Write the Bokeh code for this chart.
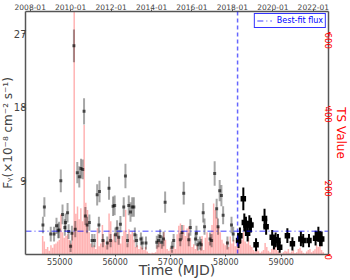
import math
from bokeh.plotting import figure
from bokeh.models import Range1d, LinearAxis, FixedTicker, Span, Legend, LegendItem
from bokeh.embed import file_html
from bokeh.resources import INLINE

# ---------------- data ----------------
# Pre-2018 light curve (grey)
grey_mjd = [54695, 54721, 54836, 54896, 54940, 54969, 54987, 55018, 55049, 55091,
            55104, 55140, 55159, 55195, 55219, 55255, 55279, 55316, 55352, 55383,
            55414, 55438, 55462, 55493, 55535, 55584, 55626, 55675, 55706, 55717,
            55779, 55858, 55889, 55918, 55962, 55991, 56004, 56035, 56064, 56095,
            56155, 56186, 56223, 56246, 56277, 56308, 56338, 56356, 56387, 56465,
            56491, 56557, 56752, 56783, 56812, 56843, 56874, 56903, 57026, 57057,
            57177, 57208, 57239, 57330, 57359, 57451, 57469, 57495, 57531, 57555,
            57591, 57615, 57714, 57743, 57798, 57834, 57859, 57889, 57920, 57951,
            58029, 58102, 58133]
grey_flux = [3.6, 5.8, 2.5, 2.5, 3.5, 2.9, 3.0, 9.0, 4.9, 3.3,
             3.9, 5.1, 2.8, 1.0, 2.6, 25.5, 3.1, 10.0, 9.5, 10.5,
             10.4, 17.5, 4.7, 3.6, 3.9, 1.7, 1.7, 7.3, 3.6, 7.7,
             1.7, 1.4, 8.1, 1.7, 5.9, 6.0, 2.4, 3.2, 2.1, 3.7,
             5.8, 9.6, 1.7, 6.0, 5.2, 5.8, 5.8, 2.4, 1.7, 1.9,
             1.4, 1.4, 1.5, 1.7, 2.2, 1.5, 1.9, 6.4, 0.9, 1.7,
             1.8, 2.7, 7.5, 1.8, 3.3, 1.9, 2.6, 1.2, 1.4, 1.2,
             5.1, 3.4, 1.9, 1.7, 9.9, 5.6, 3.4, 7.8, 7.2, 4.8,
             1.4, 3.6, 2.5]
grey_err = [1.0, 1.2, 0.9, 0.9, 1.0, 0.9, 1.0, 1.4, 1.2, 1.0,
            1.1, 1.2, 0.9, 0.7, 0.9, 2.0, 1.0, 1.3, 1.3, 1.2,
            1.2, 1.6, 1.1, 1.0, 1.0, 0.8, 0.8, 1.3, 1.0, 1.3,
            0.8, 0.8, 1.4, 0.8, 1.2, 1.2, 0.9, 1.0, 0.9, 1.0,
            1.2, 1.5, 0.8, 1.2, 1.2, 1.2, 1.2, 0.9, 0.8, 0.8,
            0.8, 0.8, 0.8, 0.8, 0.9, 0.8, 0.9, 1.3, 0.7, 0.8,
            0.8, 0.9, 1.4, 0.8, 1.0, 0.8, 0.9, 0.7, 0.8, 0.7,
            1.2, 1.0, 0.8, 0.8, 1.5, 1.2, 1.0, 1.3, 1.3, 1.1,
            0.8, 1.0, 0.9]

# Post-2018 light curve (black)
blk_mjd = [58230, 58254, 58316, 58334, 58363, 58394, 58425, 58454, 58546, 58699,
           58728, 58838, 58869, 58900, 58942, 58973, 59112, 59203, 59356, 59398,
           59502, 59622, 59672, 59702, 59732]
blk_flux = [1.7, 2.3, 6.8, 3.9, 3.6, 2.6, 3.8, 3.6, 1.2, 4.4,
            3.4, 2.1, 1.4, 1.8, 1.7, 0.9, 2.3, 1.3, 1.9, 1.7,
            1.7, 2.0, 2.5, 1.9, 1.9]
blk_err = [0.9, 1.0, 1.4, 1.1, 1.0, 1.0, 1.0, 0.9, 0.8, 1.2,
           1.0, 0.9, 0.8, 0.9, 0.8, 0.7, 0.9, 0.8, 0.9, 0.8,
           0.8, 0.9, 0.9, 0.9, 0.9]

# TS values (30-day bins starting at MJD 54690)
ts_start = 54690
ts_step = 30
ts_vals = [50, 35, 15, 20, 10, 25, 18, 28, 30, 35,
           40, 108, 60, 45, 50, 55, 40, 30, 60, 900,
           110, 130, 95, 125, 90, 350, 140, 120, 60, 30,
           20, 25, 15, 71, 22, 30, 80, 40, 25, 35,
           111, 90, 40, 55, 35, 60, 45, 30, 50, 65,
           121, 30, 68, 55, 62, 40, 20, 25, 15, 22,
           18, 12, 20, 8, 4, 3, 5, 4, 6, 25,
           35, 30, 28, 60, 40, 15, 10, 18, 12, 20,
           15, 55, 78, 84, 60, 80, 50, 70, 76, 45,
           20, 28, 15, 25, 10, 18, 50, 12, 45, 60,
           35, 55, 80, 138, 120, 100, 75, 60, 40, 30,
           25, 35, 20, 49, 30, 40, 22, 30, 45, 55,
           40, 60, 35, 30, 45, 25, 20, 12, 8, 15,
           10, 5, 8, 12, 31, 20, 10, 6, 15, 18,
           22, 12, 8, 5, 3, 6, 10, 8, 15, 5,
           8, 12, 4, 6, 15, 18, 10, 5, 3, 8,
           12, 15, 6, 10, 14, 25, 20, 28, 12, 6]
ts_mjd = [ts_start + ts_step * i for i in range(len(ts_vals))]

best_fit_flux = 2.85
change_mjd = 58212

date_labels = ["2008-01", "2010-01", "2012-01", "2014-01", "2016-01", "2018-01", "2020-01", "2022-01"]
date_mjd = [54466, 55197, 55927, 56658, 57388, 58119, 58849, 59580]

x_lo, x_hi = 54380, 59855
flux_max = 29.7
ts_max = 657

FONT = "DejaVu Sans"
AX = "#555555"

p = figure(width=353, height=280, output_backend="svg", toolbar_location=None,
           x_range=Range1d(x_lo, x_hi), y_range=Range1d(0, flux_max),
           min_border_left=0, min_border_right=0, min_border_top=0, min_border_bottom=0)
p.styles = {"margin-left": "-3px"}
p.outline_line_color = None
p.xgrid.visible = False
p.ygrid.visible = False
p.extra_y_ranges = {"ts": Range1d(0, ts_max)}

# TS bars
p.vbar(x=ts_mjd, top=ts_vals, width=27, y_range_name="ts",
       fill_color="red", fill_alpha=0.3, line_color=None)

# grey points
g_lo = [f - e for f, e in zip(grey_flux, grey_err)]
g_hi = [f + e for f, e in zip(grey_flux, grey_err)]
p.segment(x0=grey_mjd, y0=g_lo, x1=grey_mjd, y1=g_hi, line_color="black", line_alpha=0.35, line_width=2)
p.scatter(x=grey_mjd, y=grey_flux, marker="square", size=3, fill_color="black", line_color=None, fill_alpha=0.6)

# black points
b_lo = [f - e for f, e in zip(blk_flux, blk_err)]
b_hi = [f + e for f, e in zip(blk_flux, blk_err)]
p.segment(x0=blk_mjd, y0=b_lo, x1=blk_mjd, y1=b_hi, line_color="black", line_width=2)
p.scatter(x=blk_mjd, y=blk_flux, marker="square", size=5.5, fill_color="black", line_color=None)

# best-fit line
hl = p.line(x=[x_lo, x_hi], y=[best_fit_flux, best_fit_flux], line_color="blue", line_alpha=0.5,
            line_width=1.5, line_dash="6 3 1 3")
p.add_layout(Span(location=change_mjd, dimension="height", line_color="blue", line_alpha=0.6,
                  line_width=1.5, line_dash="4 3"))

leg = Legend(items=[LegendItem(label="Best-fit flux", renderers=[hl])], location="top_right",
             border_line_color="blue", border_line_alpha=0.8, border_line_width=1,
             label_text_color="blue", label_text_font=FONT, label_text_font_size="8px",
             glyph_width=15, glyph_height=9, padding=2, margin=2, label_standoff=5,
             spacing=0, label_height=9)
p.add_layout(leg)

# bottom axis
xa = p.xaxis[0]
xa.ticker = FixedTicker(ticks=[55000, 56000, 57000, 58000, 59000])
xa.axis_label = "Time (MJD)"
xa.axis_label_text_font = FONT
xa.axis_label_text_font_style = "normal"
xa.axis_label_text_font_size = "14px"
xa.axis_label_standoff = -6
xa.major_label_text_font = FONT
xa.major_label_text_font_size = "8px"
xa.major_label_standoff = 1
xa.major_tick_out = 2
xa.major_tick_in = 0
xa.minor_tick_out = 0
xa.axis_line_color = AX
xa.axis_line_width = 1.5
xa.major_tick_line_color = AX

# left axis
ya = p.yaxis[0]
ya.ticker = FixedTicker(ticks=[9, 18, 27])
ya.axis_label = "Fᵧ(×10⁻⁸ cm⁻² s⁻¹)"
ya.axis_label_text_font = FONT
ya.axis_label_text_font_style = "normal"
ya.axis_label_text_font_size = "12px"
ya.axis_label_standoff = -4
ya.major_label_text_font = FONT
ya.major_label_text_font_size = "10px"
ya.major_label_standoff = -4
ya.major_tick_out = 3
ya.major_tick_in = 0
ya.minor_tick_out = 0
ya.axis_line_color = AX
ya.axis_line_width = 1.5
ya.major_tick_line_color = AX

# top axis (dates)
ta = LinearAxis(ticker=FixedTicker(ticks=date_mjd),
                major_label_overrides={m: l for m, l in zip(date_mjd, date_labels)})
ta.major_label_text_font = FONT
ta.major_label_text_font_size = "7.5px"
ta.major_label_standoff = 0
ta.major_tick_out = 2
ta.major_tick_in = 0
ta.minor_tick_out = 0
ta.axis_line_color = AX
ta.axis_line_width = 1.5
ta.major_tick_line_color = AX
p.add_layout(ta, "above")

# right axis (TS)
ra = LinearAxis(y_range_name="ts", ticker=FixedTicker(ticks=[0, 200, 400, 600]))
ra.axis_label = "TS Value"
ra.axis_label_text_color = "red"
ra.axis_label_text_font = FONT
ra.axis_label_text_font_style = "normal"
ra.axis_label_text_font_size = "12px"
ra.axis_label_standoff = -5
ra.major_label_text_color = "red"
ra.major_label_text_font = FONT
ra.major_label_text_font_size = "8.5px"
ra.major_label_orientation = -math.pi / 2
ra.major_label_standoff = -2
ra.major_tick_out = 2
ra.major_tick_in = 0
ra.minor_tick_out = 0
ra.axis_line_color = AX
ra.axis_line_width = 1.5
ra.major_tick_line_color = "red"
p.add_layout(ra, "right")

open("out.html", "w").write(file_html(p, INLINE))
